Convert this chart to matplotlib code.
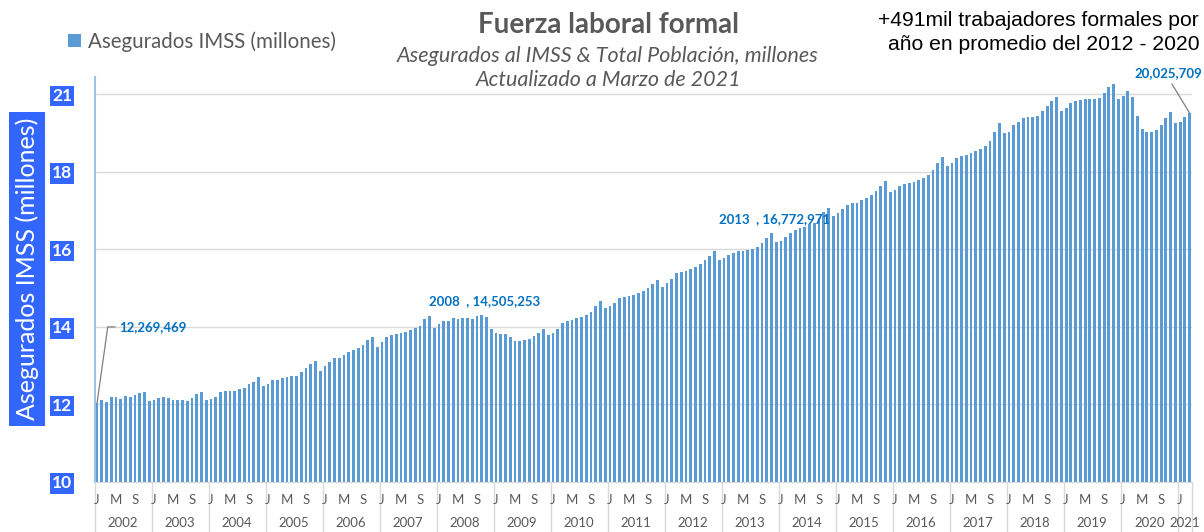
import numpy as np
import matplotlib.pyplot as plt
from matplotlib.transforms import blended_transform_factory

# Asegurados IMSS (millones), mensual Ene-2002 a Mar-2021
anios = [str(a) for a in range(2002, 2022)]
letras_mes = {0: 'J', 4: 'M', 8: 'S'}

asegurados_2002 = [12.03, 12.12, 12.07, 12.20, 12.19, 12.14, 12.22, 12.19, 12.25, 12.30, 12.31, 12.08]
asegurados_2003 = [12.12, 12.16, 12.19, 12.18, 12.12, 12.12, 12.12, 12.08, 12.17, 12.27, 12.31, 12.11]
asegurados_2004 = [12.14, 12.19, 12.32, 12.35, 12.34, 12.35, 12.39, 12.43, 12.52, 12.57, 12.70, 12.48]
asegurados_2005 = [12.53, 12.62, 12.62, 12.68, 12.71, 12.74, 12.74, 12.84, 12.93, 13.05, 13.13, 12.87]
asegurados_2006 = [12.99, 13.09, 13.19, 13.20, 13.28, 13.35, 13.40, 13.47, 13.54, 13.66, 13.75, 13.48]
asegurados_2007 = [13.62, 13.73, 13.79, 13.83, 13.85, 13.86, 13.91, 13.97, 14.03, 14.20, 14.28, 13.97]
asegurados_2008 = [14.08, 14.15, 14.16, 14.22, 14.21, 14.22, 14.22, 14.21, 14.28, 14.31, 14.25, 13.94]
asegurados_2009 = [13.84, 13.81, 13.81, 13.75, 13.65, 13.65, 13.66, 13.69, 13.77, 13.84, 13.95, 13.78]
asegurados_2010 = [13.84, 13.95, 14.10, 14.16, 14.18, 14.22, 14.26, 14.31, 14.39, 14.54, 14.67, 14.49]
asegurados_2011 = [14.54, 14.62, 14.75, 14.77, 14.80, 14.83, 14.88, 14.93, 15.01, 15.11, 15.21, 15.03]
asegurados_2012 = [15.14, 15.24, 15.39, 15.42, 15.45, 15.50, 15.55, 15.63, 15.73, 15.83, 15.96, 15.73]
asegurados_2013 = [15.78, 15.86, 15.92, 15.95, 15.97, 15.98, 16.00, 16.07, 16.16, 16.30, 16.42, 16.19]
asegurados_2014 = [16.22, 16.32, 16.43, 16.50, 16.55, 16.59, 16.65, 16.68, 16.80, 16.96, 17.08, 16.86]
asegurados_2015 = [16.93, 17.05, 17.15, 17.21, 17.21, 17.28, 17.32, 17.40, 17.51, 17.65, 17.77, 17.48]
asegurados_2016 = [17.54, 17.64, 17.68, 17.72, 17.74, 17.78, 17.84, 17.93, 18.06, 18.22, 18.38, 18.16]
asegurados_2017 = [18.24, 18.35, 18.40, 18.43, 18.48, 18.53, 18.59, 18.68, 18.80, 19.02, 19.26, 19.00]
asegurados_2018 = [19.04, 19.21, 19.30, 19.39, 19.42, 19.41, 19.45, 19.56, 19.69, 19.84, 19.94, 19.57]
asegurados_2019 = [19.66, 19.77, 19.84, 19.86, 19.88, 19.88, 19.88, 19.90, 20.04, 20.19, 20.26, 19.89]
asegurados_2020 = [19.95, 20.08, 19.94, 19.44, 19.11, 19.03, 19.03, 19.09, 19.21, 19.40, 19.55, 19.27]
asegurados_2021 = [19.30, 19.42, 19.52]

ticks_y = [10, 12, 14, 16, 18, 20]
etiquetas_y = ['10', '12', '14', '16', '18', '21']

# (indice del mes, texto)
etiquetas_datos = [(0, '12,269,469'), (81, '2008  , 14,505,253'),
                   (142, '2013  , 16,772,971'), (230, '20,025,709')]

AZUL_BARRA = '#5b9bd5'
AZUL_CAJA = '#3366ff'
AZUL_TEXTO = '#0070c0'
GRIS = '#595959'
GRIS_CLARO = '#d9d9d9'
FUENTE = 'Lato'


def main():
    series = [asegurados_2002, asegurados_2003, asegurados_2004, asegurados_2005,
              asegurados_2006, asegurados_2007, asegurados_2008, asegurados_2009,
              asegurados_2010, asegurados_2011, asegurados_2012, asegurados_2013,
              asegurados_2014, asegurados_2015, asegurados_2016, asegurados_2017,
              asegurados_2018, asegurados_2019, asegurados_2020, asegurados_2021]
    valores = np.concatenate(series)
    n = len(valores)
    x = np.arange(n)

    fig = plt.figure(figsize=(12.04, 5.32), dpi=100)
    ax = fig.add_axes([0.0786, 0.094, 0.9114, 0.762])

    barras = ax.bar(x, valores, width=0.6, color=AZUL_BARRA,
                    label='Asegurados IMSS (millones)', zorder=2)
    ax.set_xlim(-0.5, n - 0.5)
    ax.set_ylim(10, 20.46)

    ax.set_yticks(ticks_y)
    ax.set_yticklabels(etiquetas_y)
    ax.grid(axis='y', color=GRIS_CLARO, lw=1)
    ax.set_axisbelow(True)
    ax.tick_params(axis='y', length=0, pad=16)
    for lbl in ax.get_yticklabels():
        lbl.set_fontfamily(FUENTE)
        lbl.set_fontweight('bold')
        lbl.set_fontsize(12.5)
        lbl.set_color('white')
        lbl.set_bbox(dict(boxstyle='square,pad=0.12', fc=AZUL_CAJA, ec='none'))
    ax.set_xticks([])

    for lado in ['top', 'right']:
        ax.spines[lado].set_visible(False)
    ax.spines['left'].set_color('#9dc3e6')
    ax.spines['left'].set_linewidth(1.5)
    ax.spines['bottom'].set_color(GRIS_CLARO)

    # eje de categorias en dos niveles (mes / anio)
    trans = blended_transform_factory(ax.transData, ax.transAxes)
    for k, anio in enumerate(anios):
        inicio = k * 12
        cuantos = min(12, n - inicio)
        ax.text(inicio + (cuantos - 1) / 2, -0.101, anio, transform=trans,
                ha='center', va='center', fontsize=9.5, color=GRIS, family=FUENTE)
        for m, letra in letras_mes.items():
            if m < cuantos:
                ax.text(inicio + m, -0.044, letra, transform=trans, ha='center',
                        va='center', fontsize=9.5, color=GRIS, family=FUENTE)
        ax.plot([inicio - 0.5] * 2, [0, -0.125], transform=trans,
                color=GRIS_CLARO, lw=1, clip_on=False)
    ax.plot([n - 0.5] * 2, [0, -0.125], transform=trans,
            color=GRIS_CLARO, lw=1, clip_on=False)

    # etiquetas de datos
    estilo = dict(color=AZUL_TEXTO, fontsize=9.5, fontweight='bold',
                  family=FUENTE, annotation_clip=False, zorder=5)
    i0, t0 = etiquetas_datos[0]
    ax.annotate(t0, xy=(i0, valores[i0]), xytext=(16, 55), textcoords='offset points',
                ha='left', va='center',
                arrowprops=dict(arrowstyle='-', color='#7f7f7f', lw=0.9,
                                shrinkA=1, shrinkB=0, relpos=(0, 0.5),
                                connectionstyle='angle,angleA=0,angleB=82,rad=0'),
                **estilo)
    for i, t in etiquetas_datos[1:3]:
        ax.annotate(t, xy=(i, valores[i]), xytext=(2, 10), textcoords='offset points',
                    ha='center', va='center', **estilo)
    i3, t3 = etiquetas_datos[3]
    ax.annotate(t3, xy=(i3, valores[i3]), xytext=(-15, 29), textcoords='offset points',
                ha='center', va='center',
                arrowprops=dict(arrowstyle='-', color='#7f7f7f', lw=0.9,
                                shrinkA=2, shrinkB=0, relpos=(0.5, 0)),
                **estilo)

    # etiqueta del eje y
    fig.text(27 / 1204, 1 - 269 / 532, 'Asegurados IMSS (millones)', rotation=90,
             ha='center', va='center', color='white', fontsize=18, family=FUENTE,
             bbox=dict(boxstyle='square,pad=0.25', fc=AZUL_CAJA, ec='none'))

    # titulos
    fig.text(0.505, 0.953, 'Fuerza laboral formal', ha='center', va='center',
             fontsize=20, fontweight='bold', color=GRIS, family=FUENTE)
    fig.text(0.505, 0.895, 'Asegurados al IMSS & Total Población, millones',
             ha='center', va='center', fontsize=15.5, style='italic', color=GRIS,
             family=FUENTE)
    fig.text(0.505, 0.850, 'Actualizado a Marzo de 2021', ha='center', va='center',
             fontsize=15.5, style='italic', color=GRIS, family=FUENTE)
    fig.text(0.996, 0.962, '+491mil trabajadores formales por', ha='right',
             va='center', fontsize=15.2, color='black', family='Liberation Sans')
    fig.text(0.996, 0.917, 'año en promedio del 2012 - 2020', ha='right',
             va='center', fontsize=15.2, color='black', family='Liberation Sans')

    fig.legend(handles=[barras], loc='center left', bbox_to_anchor=(0.041, 0.922),
               frameon=False, handlelength=0.65, handleheight=0.65, handletextpad=0.35,
               prop=dict(family=FUENTE, size=14.8), labelcolor=GRIS)

    fig.savefig('out.png', dpi=100)
    plt.close(fig)


if __name__ == '__main__':
    main()
